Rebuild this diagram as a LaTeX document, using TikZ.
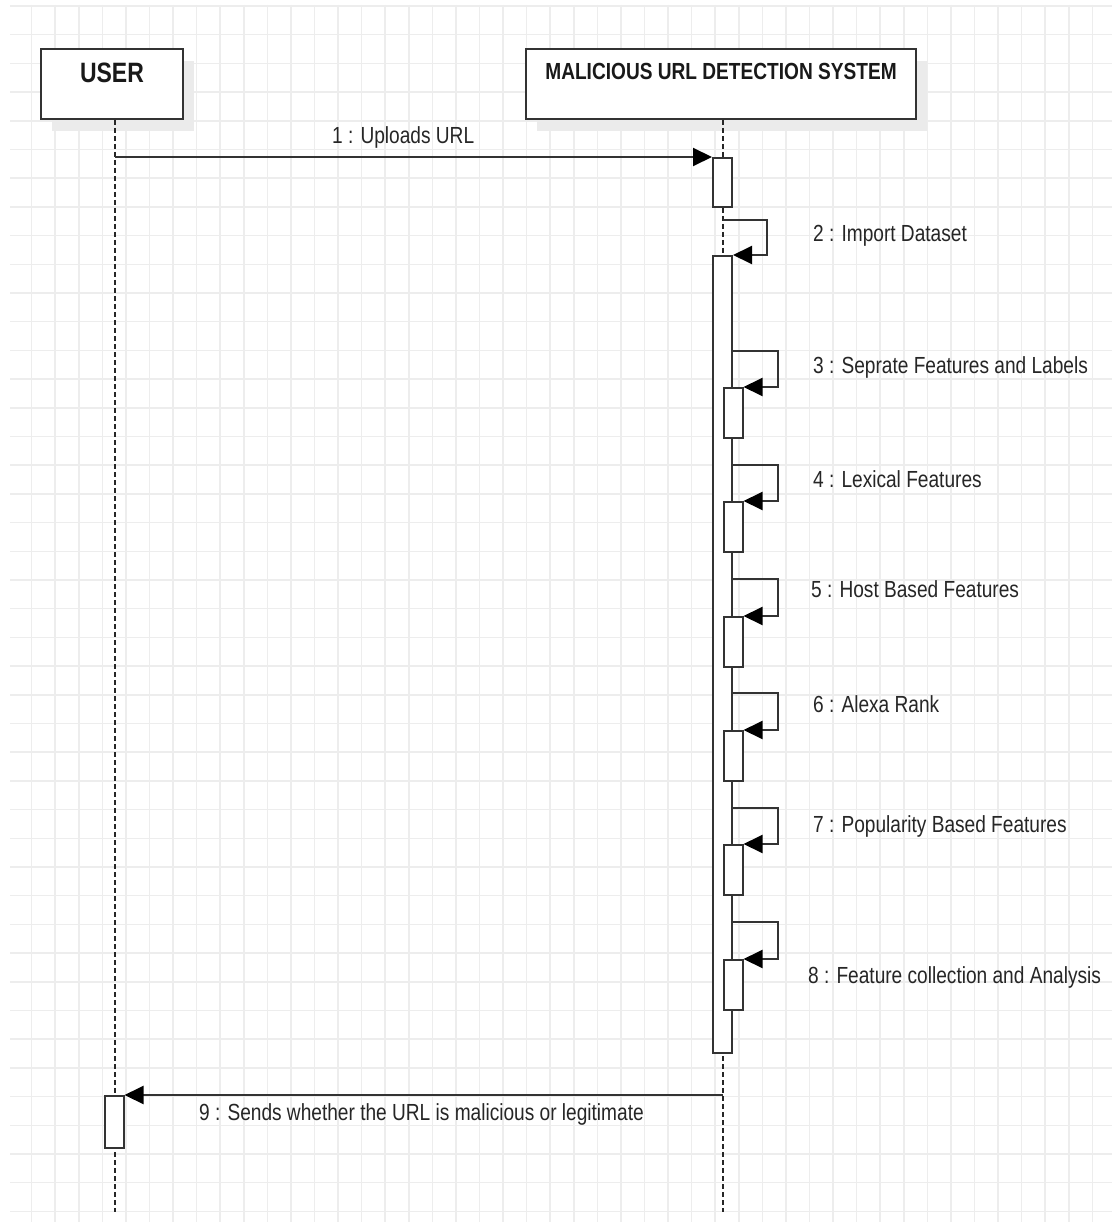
\documentclass[tikz,border=0pt]{standalone}
\usepackage{fontspec}
\setmainfont{Liberation Sans}[FakeStretch=0.82]
\usetikzlibrary{arrows.meta,shadows}

\tikzset{
  gridline/.style={draw=black!7, line width=1.5pt},
  actorbox/.style={rectangle, draw=black!80, line width=2pt, fill=white,
    text=black!90, minimum height=70pt, inner sep=3pt,
    drop shadow={shadow xshift=11pt, shadow yshift=-12pt, fill=black!8, opacity=1}},
  lifeline/.style={draw=black!85, line width=1.6pt, dash pattern=on 5pt off 3pt},
  actbox/.style={rectangle, draw=black!80, line width=2pt, fill=white,
    inner sep=0pt, minimum width=19pt, anchor=north west},
  msg/.style={draw=black!80, line width=2pt,
    -{Triangle[length=19pt,width=18pt,color=black]}},
  msglabel/.style={text=black!85, inner sep=0pt, anchor=base west,
    font=\fontsize{23.3pt}{28pt}\selectfont}
}

\begin{document}
\begin{tikzpicture}[x=1pt, y=-1pt]
  \useasboundingbox (0,0) rectangle (1112,1222);
  \fill[white] (0,0) rectangle (1112,1222);
  % background grid
  \foreach \i in {1,...,46}
    \draw[gridline] (8.1+23.57*\i,5) -- (8.1+23.57*\i,1222);
  \foreach \j in {0,...,42}
    \draw[gridline] (10,6+28.7*\j) -- (1112,6+28.7*\j);

  % participants
  \node[actorbox, minimum width=142pt, text depth=22pt,
        font=\fontsize{28pt}{32pt}\selectfont\bfseries] (user) at (112,84) {USER};
  \node[actorbox, minimum width=390pt, text depth=25pt,
        font=\fontsize{23.3pt}{28pt}\selectfont\bfseries] (sys) at (721,84) {MALICIOUS URL DETECTION SYSTEM};

  % lifelines
  \coordinate (userend) at (115,1212);
  \coordinate (sysend) at (723,1212);
  \draw[lifeline] (user.south -| userend) -- (userend);
  \draw[lifeline] (sys.south -| sysend) -- (sysend);

  % activations
  \node[actbox, minimum height=49pt] (a1) at (712,157) {};
  \node[actbox, minimum height=797pt] (big) at (712,255) {};
  \node[actbox, minimum height=50pt] (n3) at (722.5,387) {};
  \node[actbox, minimum height=50pt] (n4) at (722.5,501) {};
  \node[actbox, minimum height=50pt] (n5) at (722.5,616) {};
  \node[actbox, minimum height=50pt] (n6) at (722.5,730) {};
  \node[actbox, minimum height=50pt] (n7) at (722.5,844) {};
  \node[actbox, minimum height=50pt] (n8) at (722.5,959) {};
  \node[actbox, minimum height=52pt] (a9) at (103.5,1095) {};

  % messages
  \coordinate (m1) at (115,157);
  \draw[msg] (m1) -- (a1.north west);
  \node[msglabel] (l1) at (332,144) {1 : Uploads URL};

  \coordinate (m2) at (723,220);
  \draw[msg] (m2) -- ++(44,0) |- (big.north east);
  \node[msglabel] (l2) at (813,242) {2 : Import Dataset};

  \draw[msg] (big.east |- 0,351) -- ++(45,0) |- (n3.north east);
  \node[msglabel] (l3) at (813,373) {3 : Seprate Features and Labels};

  \draw[msg] (big.east |- 0,465) -- ++(45,0) |- (n4.north east);
  \node[msglabel] (l4) at (813,487) {4 : Lexical Features};

  \draw[msg] (big.east |- 0,579) -- ++(45,0) |- (n5.north east);
  \node[msglabel] (l5) at (811,597) {5 : Host Based Features};

  \draw[msg] (big.east |- 0,693) -- ++(45,0) |- (n6.north east);
  \node[msglabel] (l6) at (813,712) {6 : Alexa Rank};

  \draw[msg] (big.east |- 0,808) -- ++(45,0) |- (n7.north east);
  \node[msglabel] (l7) at (813,832) {7 : Popularity Based Features};

  \draw[msg] (big.east |- 0,922) -- ++(45,0) |- (n8.north east);
  \node[msglabel] (l8) at (808,983) {8 : Feature collection and Analysis};

  \coordinate (m9) at (723,1095);
  \draw[msg] (m9) -- (a9.north east);
  \node[msglabel] (l9) at (199,1120) {9 : Sends whether the URL is malicious or legitimate};
\end{tikzpicture}
\end{document}
